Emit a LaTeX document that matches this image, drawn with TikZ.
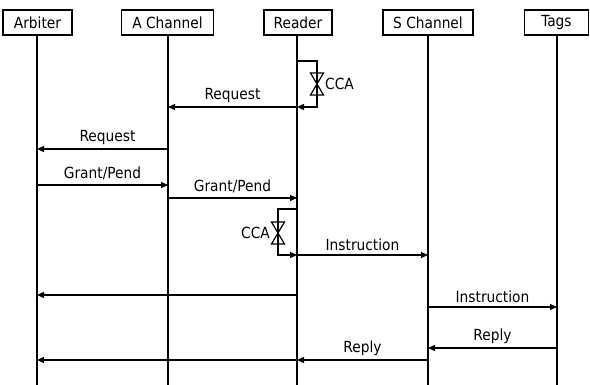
\documentclass[tikz,border=0pt]{standalone}
\usepackage{fontspec}
\setmainfont{DejaVu Sans Condensed}
\usetikzlibrary{arrows.meta}
\begin{document}
\begin{tikzpicture}[x=1pt,y=-1pt,
  every node/.style={font=\fontsize{15.3}{18}\selectfont},
  header/.style={draw,line width=1.3pt,minimum height=25pt,inner sep=0pt},
  life/.style={line width=1.2pt},
  msg/.style={line width=1.2pt,-{Triangle[length=7pt,width=6pt]}},
  plain/.style={line width=1.2pt},
  lbl/.style={above,inner sep=0pt,yshift=4pt},
  hglass/.pic={\draw[line width=1.2pt,line join=miter] (-6.5,-11) -- (6.5,-11) -- (-6.5,11) -- (6.5,11) -- cycle;}]
\useasboundingbox (0,0) rectangle (590,385);

% participants
\node[header,minimum width=69pt] (arb)   at (37.5,22.5)  {Arbiter};
\node[header,minimum width=92pt] (ach)   at (167.5,22.5) {A Channel};
\node[header,minimum width=68pt] (rdr)   at (298,22.5)   {Reader};
\node[header,minimum width=90pt] (sch)   at (428,22.5)   {S Channel};
\node[header,minimum width=64pt] (tags)  at (556.5,22.5) {Tags};

% lifelines
\coordinate (arbL) at (37,0);
\coordinate (achL) at (168,0);
\coordinate (rdrL) at (297,0);
\coordinate (schL) at (428,0);
\coordinate (tagL) at (557,0);
\draw[life] (arbL |- arb.south) -- (arbL |- 0,385);
\draw[life] (achL |- ach.south) -- (achL |- 0,385);
\draw[life] (rdrL |- rdr.south) -- (rdrL |- 0,385);
\draw[life] (schL |- sch.south) -- (schL |- 0,385);
\draw[life] (tagL |- tags.south) -- (tagL |- 0,385);

% first clear-channel assessment at the reader
\coordinate (g1) at (317,84);
\draw[plain] (rdrL |- 0,61) -| ([yshift=-11pt]g1);
\pic at (g1) {hglass};
\node[right,inner sep=1pt] (cca1) at ([xshift=7pt]g1) {CCA};
\draw[msg] ([yshift=11pt]g1) |- (rdrL |- 0,107);

% request / grant
\draw[msg] (rdrL |- 0,107) -- node[lbl] {Request} (achL |- 0,107);
\draw[msg] (achL |- 0,149) -- node[lbl,xshift=5pt] {Request} (arbL |- 0,149);
\draw[msg] (arbL |- 0,185) -- node[lbl] {Grant/Pend} (achL |- 0,185);
\draw[msg] (achL |- 0,198) -- node[lbl] {Grant/Pend} (rdrL |- 0,198);

% second clear-channel assessment
\coordinate (g2) at (278,233);
\draw[plain] (rdrL |- 0,209) -| ([yshift=-11pt]g2);
\pic at (g2) {hglass};
\node[left,inner sep=1pt] (cca2) at ([xshift=-7pt]g2) {CCA};
\draw[msg] ([yshift=11pt]g2) |- (rdrL |- 0,255);

% instruction and reply
\draw[msg] (rdrL |- 0,255) -- node[lbl] {Instruction} (schL |- 0,255);
\draw[msg] (rdrL |- 0,295) -- (arbL |- 0,295);
\draw[msg] (schL |- 0,307) -- node[lbl] {Instruction} (tagL |- 0,307);
\draw[msg] (tagL |- 0,348) -- node[lbl] {Reply} (schL |- 0,348);
\draw[msg] (schL |- 0,360) -- node[lbl] {Reply} (rdrL |- 0,360);
\draw[msg] (rdrL |- 0,360) -- (arbL |- 0,360);
\end{tikzpicture}
\end{document}
